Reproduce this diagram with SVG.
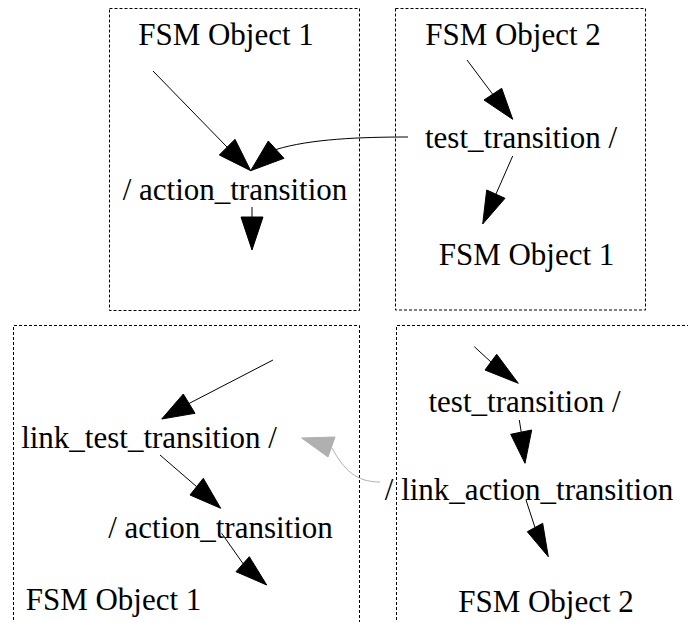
<svg xmlns="http://www.w3.org/2000/svg" width="688" height="622" viewBox="0 0 688 622">
  <style>
    .frame { fill: none; stroke: #000; stroke-width: 1; stroke-dasharray: 3,2; }
    .lbl { font-family: 'Liberation Serif', 'Times New Roman', serif; font-size: 31px; fill: #000; text-anchor: middle; }
    .edge { fill: none; stroke: #000; stroke-width: 1; }
    .head { fill: #000; stroke: #000; stroke-width: 1; stroke-linejoin: miter; }
    .edge.link { stroke: #b0b0b0; }
    .head.link { fill: #b0b0b0; stroke: #b0b0b0; }
  </style>

  <!-- cluster frames -->
  <g id="frames">
    <rect class="frame" x="109.5" y="8.5" width="250" height="302"/>
    <rect class="frame" x="395.5" y="8.5" width="250" height="301.5"/>
    <path class="frame" d="M13.5,630 V325.5 H359.5 V630"/>
    <path class="frame" d="M396.5,630 V325.5 H700"/>
  </g>

  <!-- state / transition nodes -->
  <g id="n1"><text class="lbl" x="226" y="45">FSM Object 1</text></g>
  <g id="n2"><text class="lbl" x="235" y="200">/ action_transition</text></g>
  <g id="n3"><text class="lbl" x="513" y="45">FSM Object 2</text></g>
  <g id="n4"><text class="lbl" x="521" y="148">test_transition /</text></g>
  <g id="n5"><text class="lbl" x="526.5" y="265">FSM Object 1</text></g>
  <g id="n6"><text class="lbl" x="149" y="448">link_test_transition /</text></g>
  <g id="n7"><text class="lbl" x="220.5" y="538">/ action_transition</text></g>
  <g id="n8"><text class="lbl" x="113.5" y="610">FSM Object 1</text></g>
  <g id="n9"><text class="lbl" x="524.5" y="412">test_transition /</text></g>
  <g id="n10"><text class="lbl" x="529" y="500">/ link_action_transition</text></g>
  <g id="n11"><text class="lbl" x="546" y="612">FSM Object 2</text></g>

  <!-- connectors -->
  <g id="edges">
    <line class="edge" x1="153" y1="71" x2="227" y2="147"/>
    <polygon class="head" points="250.7,170.7 219.3,155 235,139.3"/>

    <path class="edge" d="M408,137 C360,137 310,139 276,149.5"/>
    <polygon class="head" points="250.7,170.7 268.3,141 284,158.3"/>

    <line class="edge" x1="252" y1="207" x2="252" y2="217"/>
    <polygon class="head" points="252,250 241,217 263,217"/>

    <line class="edge" x1="467" y1="60" x2="492.5" y2="94"/>
    <polygon class="head" points="512.7,119.3 484,100 501.7,88.3"/>

    <line class="edge" x1="512.7" y1="156" x2="496" y2="194"/>
    <polygon class="head" points="482.7,224 486.7,190 505,198.3"/>

    <line class="edge" x1="273" y1="360" x2="189" y2="403.5"/>
    <polygon class="head" points="161.7,419 183.3,394 195,413.3"/>

    <path class="edge link" d="M380,482 C356,482 344,470 332,448"/>
    <polygon class="head link" points="301.7,438 335,437 328,457"/>

    <line class="edge" x1="160" y1="455" x2="196.7" y2="486.7"/>
    <polygon class="head" points="220.7,508.3 190,495 203.3,478.3"/>

    <line class="edge" x1="221.7" y1="533.3" x2="243.3" y2="564"/>
    <polygon class="head" points="266.7,585 236,571.7 249.3,556.7"/>

    <line class="edge" x1="474.3" y1="346.7" x2="491" y2="362"/>
    <polygon class="head" points="518.3,383.3 485,370 496.7,354.3"/>

    <line class="edge" x1="519.3" y1="420" x2="521.2" y2="432"/>
    <polygon class="head" points="525,463.3 510.7,434.3 531.7,430"/>

    <line class="edge" x1="526" y1="500" x2="535" y2="527.5"/>
    <polygon class="head" points="548.3,556.7 527.3,531.7 542.7,523.3"/>
  </g>
</svg>
